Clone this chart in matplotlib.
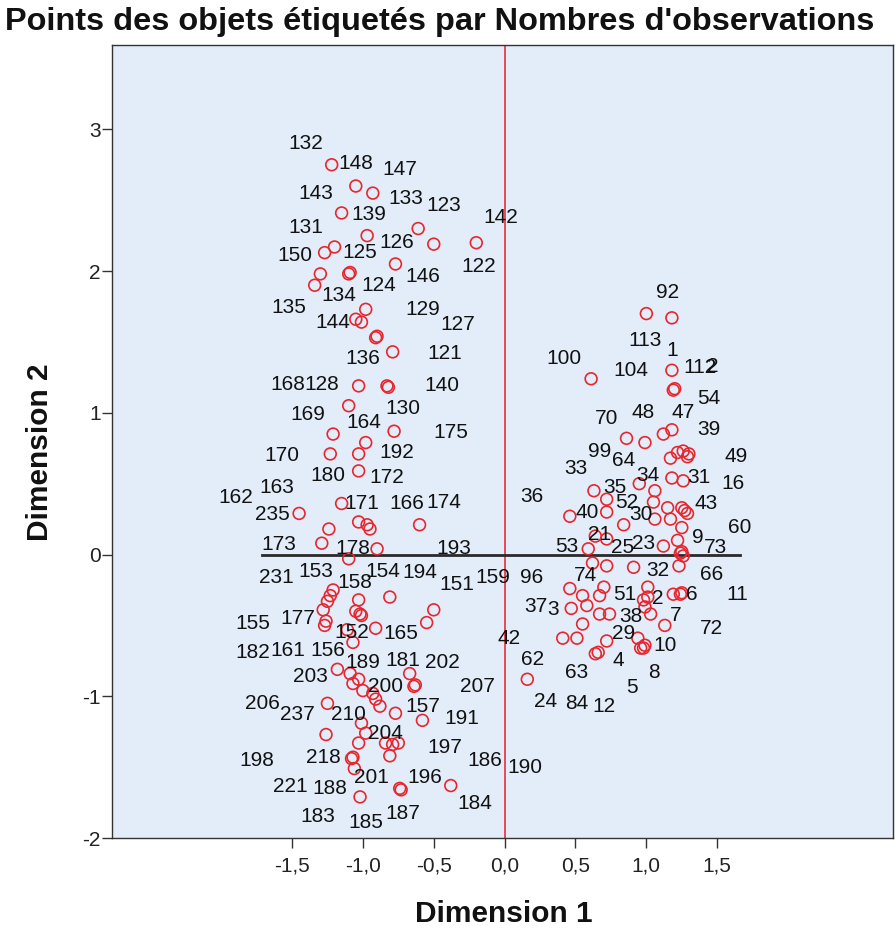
import matplotlib
matplotlib.use("Agg")
import matplotlib.pyplot as plt
from matplotlib.ticker import FixedLocator, FuncFormatter

plt.rcParams['font.family'] = ['Liberation Sans', 'DejaVu Sans']

# ---- object points (Dimension 1, Dimension 2) ----
pt_x = [
    -1.22, -1.05, -0.93, -1.15, -0.97, -0.61, -0.50, -0.20, -1.27, -1.20,
    -0.77, -1.30, -1.10, -1.09, -1.34, -0.98, -1.05, -1.01, -0.91, -0.90,
    -0.79, -1.03, -0.83, -0.82, -1.10, -1.21, -0.78, -0.98, -1.23, -1.03,
    -1.03, -1.15, -1.45, -1.24, -1.29, -1.03, -0.97, -0.95, -0.60, -0.90,
    -1.10,
    -1.21, -1.23, -1.25, -1.28, -1.26, -1.27, -1.03, -1.05, -1.02, -1.01,
    -0.91, -1.11, -1.07, -0.81, -0.50, -0.55, -1.18, -1.09, -1.07, -1.03,
    -1.00, -1.25, -0.91, -0.67, -0.64, -0.63, -0.93, -0.88, -0.77, -0.58,
    -1.01, -0.98, -1.26, -1.03, -1.07, -1.08, -1.06, -1.02, -0.84, -0.79,
    -0.75, -0.81, -0.74, -0.73, -0.38, 0.16,
    1.00, 1.18, 0.61, 1.18, 1.20, 1.19, 0.86, 0.99, 1.12, 1.18,
    1.17, 1.22, 1.26, 1.30, 1.29, 1.18, 1.26, 1.06, 1.05, 1.15,
    1.25, 1.27, 1.17, 1.29, 1.25, 1.22, 1.12, 1.24, 1.25, 1.26,
    1.23, 1.19, 1.24, 1.25, 1.01, 0.98, 1.03, 1.13, 0.99,
    0.63, 0.95, 0.46, 0.72, 0.72, 0.84, 1.06, 0.64, 0.72, 0.59,
    0.62, 0.72, 0.91, 0.46, 0.55, 0.58, 0.67, 0.70, 0.67, 0.74,
    0.47, 1.01, 0.99, 0.55, 0.41, 0.51, 0.72, 0.66, 0.64, 0.94,
    0.96, 0.98,
]
pt_y = [
    2.75, 2.60, 2.55, 2.41, 2.25, 2.30, 2.19, 2.20, 2.13, 2.17,
    2.05, 1.98, 1.98, 1.99, 1.90, 1.73, 1.66, 1.64, 1.53, 1.54,
    1.43, 1.19, 1.19, 1.18, 1.05, 0.85, 0.87, 0.79, 0.71, 0.71,
    0.59, 0.36, 0.29, 0.18, 0.08, 0.23, 0.21, 0.18, 0.21, 0.04,
    -0.03,
    -0.25, -0.29, -0.33, -0.39, -0.47, -0.50, -0.32, -0.40, -0.42, -0.43,
    -0.52, -0.53, -0.62, -0.30, -0.39, -0.48, -0.81, -0.84, -0.91, -0.88,
    -0.96, -1.05, -1.02, -0.84, -0.93, -0.92, -0.98, -1.07, -1.12, -1.17,
    -1.19, -1.26, -1.27, -1.33, -1.43, -1.44, -1.51, -1.71, -1.33, -1.34,
    -1.33, -1.42, -1.65, -1.66, -1.63, -0.88,
    1.70, 1.67, 1.24, 1.30, 1.17, 1.16, 0.82, 0.79, 0.85, 0.88,
    0.68, 0.72, 0.73, 0.71, 0.69, 0.54, 0.52, 0.45, 0.37, 0.33,
    0.33, 0.31, 0.25, 0.29, 0.19, 0.10, 0.06, 0.01, 0.02, -0.01,
    -0.08, -0.28, -0.28, -0.27, -0.23, -0.32, -0.42, -0.50, -0.64,
    0.45, 0.50, 0.27, 0.39, 0.30, 0.21, 0.25, 0.13, 0.11, 0.04,
    -0.06, -0.08, -0.09, -0.24, -0.29, -0.36, -0.29, -0.23, -0.42, -0.42,
    -0.38, -0.30, -0.37, -0.49, -0.59, -0.59, -0.61, -0.69, -0.70, -0.59,
    -0.66, -0.66,
]

# ---- observation labels and where the chart printed them ----
lab_text = [
    "132", "148", "147", "143", "133", "123", "139", "142", "131", "126",
    "125", "150", "122", "146", "124", "134", "135", "129", "144", "127",
    "136", "121", "168", "128", "140", "169", "130", "164", "175", "192",
    "170", "180", "172", "163", "162", "171", "166", "174", "235", "36",
    "173", "178", "193",
    "231", "153", "154", "194", "158", "151", "159", "96", "37", "3",
    "155", "177", "152", "165", "42", "182", "161", "156", "189", "181",
    "202", "62", "203", "200", "207", "206", "237", "210", "157", "191",
    "24", "84", "12", "204", "197", "198", "218", "186", "190", "201",
    "196", "221", "188", "184", "183", "185", "187",
    "92", "113", "1", "100", "104", "112", "2", "54", "70", "48",
    "47", "39", "99", "64", "49", "33", "34", "31", "16", "35",
    "52", "43", "40", "30", "60", "21", "9", "53", "25", "23",
    "73", "32", "66", "74", "51", "6", "11", "2", "7", "38",
    "72", "29", "10", "4", "8", "63", "5",
]
lab_x = [
    -1.40, -1.05, -0.74, -1.33, -0.70, -0.43, -0.96, -0.03, -1.40, -0.76,
    -1.02, -1.48, -0.18, -0.58, -0.89, -1.17, -1.52, -0.58, -1.21, -0.33,
    -1.00, -0.42, -1.53, -1.29, -0.44, -1.39, -0.72, -0.99, -0.38, -0.76,
    -1.57, -1.25, -0.83, -1.61, -1.90, -1.01, -0.69, -0.43, -1.64, 0.19,
    -1.59, -1.07, -0.36,
    -1.61, -1.33, -0.86, -0.60, -1.06, -0.34, -0.08, 0.19, 0.22, 0.34,
    -1.78, -1.46, -1.08, -0.73, 0.03, -1.78, -1.53, -1.25, -1.00, -0.72,
    -0.44, 0.20, -1.37, -0.84, -0.19, -1.71, -1.46, -1.10, -0.58, -0.30,
    0.29, 0.51, 0.70, -0.84, -0.42, -1.75, -1.28, -0.14, 0.14, -0.94,
    -0.56, -1.51, -1.23, -0.21, -1.32, -0.98, -0.72,
    1.15, 0.99, 1.18, 0.42, 0.89, 1.38, 1.465, 1.44, 0.72, 0.98,
    1.26, 1.44, 0.67, 0.84, 1.63, 0.50, 1.01, 1.37, 1.61, 0.78,
    0.86, 1.42, 0.58, 0.96, 1.66, 0.67, 1.36, 0.44, 0.83, 0.98,
    1.49, 1.08, 1.46, 0.57, 0.85, 1.32, 1.64, 1.08, 1.21, 0.89,
    1.46, 0.84, 1.13, 0.80, 1.05, 0.51, 0.90,
]
lab_y = [
    2.90, 2.76, 2.72, 2.55, 2.51, 2.46, 2.40, 2.38, 2.31, 2.20,
    2.13, 2.11, 2.03, 1.96, 1.90, 1.83, 1.74, 1.73, 1.64, 1.62,
    1.38, 1.42, 1.20, 1.20, 1.19, 0.99, 1.03, 0.93, 0.86, 0.72,
    0.70, 0.56, 0.54, 0.47, 0.40, 0.36, 0.36, 0.37, 0.28, 0.41,
    0.07, 0.04, 0.04,
    -0.16, -0.12, -0.12, -0.13, -0.20, -0.21, -0.16, -0.16, -0.37, -0.39,
    -0.49, -0.45, -0.55, -0.56, -0.59, -0.69, -0.68, -0.68, -0.76, -0.75,
    -0.76, -0.74, -0.86, -0.93, -0.93, -1.05, -1.13, -1.13, -1.07, -1.16,
    -1.04, -1.05, -1.07, -1.26, -1.36, -1.45, -1.43, -1.45, -1.50, -1.57,
    -1.57, -1.64, -1.65, -1.76, -1.85, -1.89, -1.83,
    1.85, 1.51, 1.44, 1.38, 1.30, 1.32, 1.33, 1.10, 0.96, 1.00,
    1.00, 0.88, 0.73, 0.66, 0.69, 0.61, 0.56, 0.54, 0.50, 0.47,
    0.37, 0.36, 0.30, 0.28, 0.19, 0.14, 0.12, 0.06, 0.05, 0.08,
    0.05, -0.11, -0.14, -0.15, -0.28, -0.28, -0.28, -0.31, -0.43, -0.44,
    -0.52, -0.56, -0.64, -0.75, -0.83, -0.83, -0.94,
]

x_ticks = [-1.5, -1.0, -0.5, 0.0, 0.5, 1.0, 1.5]
y_ticks = [-2, -1, 0, 1, 2, 3]
ref_line_x = [-1.71, 1.66]

W, H = 896, 931
fig = plt.figure(figsize=(W / 100, H / 100), dpi=100)
ax = fig.add_axes([112 / W, 93 / H, 781 / W, 793 / H])
ax.set_facecolor('#E2EDF9')

ax.set_xlim(-2.77, 2.74)
ax.set_ylim(-2.0, 3.595)

ax.axvline(0, color='#E8303A', lw=1.2, zorder=2)
ax.plot(ref_line_x, [0, 0], color='#2a2a2a', lw=2.0, zorder=2)

ax.scatter(pt_x, pt_y, s=72, facecolors='none', edgecolors='#E8262E',
           linewidths=1.2, zorder=3)

for t, lx, ly in zip(lab_text, lab_x, lab_y):
    ax.text(lx, ly, t, ha='center', va='center', fontsize=15,
            color='#111111', zorder=4)

ax.xaxis.set_major_locator(FixedLocator(x_ticks))
ax.yaxis.set_major_locator(FixedLocator(y_ticks))
ax.xaxis.set_major_formatter(FuncFormatter(lambda v, p: f"{v:.1f}".replace('.', ',')))
ax.yaxis.set_major_formatter(FuncFormatter(lambda v, p: f"{v:.0f}"))
ax.tick_params(axis='both', direction='out', length=7, width=1, color='#333333',
               labelsize=15, labelcolor='#222222')
ax.tick_params(axis='x', pad=6)
ax.tick_params(axis='y', pad=1)
for s in ax.spines.values():
    s.set_color('#333333')
    s.set_linewidth(1)

fig.text(5 / W, 1 - 22 / H, "Points des objets étiquetés par Nombres d'observations",
         ha='left', va='center', fontsize=23.4, fontweight='bold', color='#111111')
fig.text(504 / W, 1 - 914 / H, "Dimension 1", ha='center', va='center',
         fontsize=21.5, fontweight='bold', color='#111111')
fig.text(40 / W, 1 - 452 / H, "Dimension 2", ha='center', va='center', rotation=90,
         fontsize=21.5, fontweight='bold', color='#111111')

fig.savefig("out.png", dpi=100, facecolor='white')
